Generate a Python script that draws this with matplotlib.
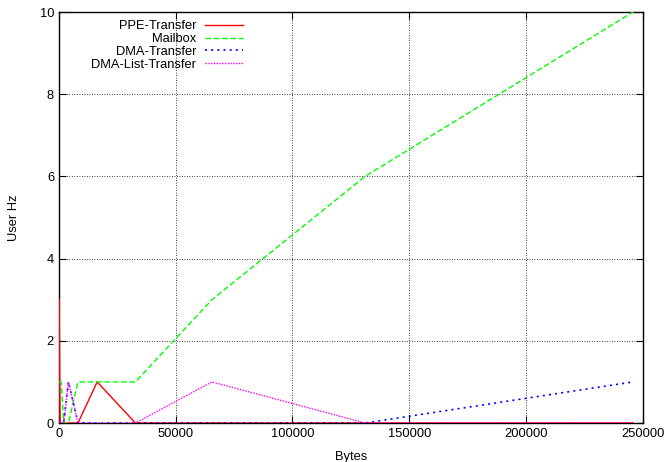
import matplotlib
matplotlib.use("Agg")
import matplotlib.pyplot as plt

plt.rcParams.update({
    "font.family": ["Liberation Sans", "DejaVu Sans"],
    "font.size": 9.3,
    "axes.linewidth": 1.0,
    "xtick.direction": "in",
    "ytick.direction": "in",
    "xtick.top": True,
    "ytick.right": True,
    "xtick.major.size": 5,
    "ytick.major.size": 5,
})

# message sizes (bytes) and measured values
sizes = [128, 512, 1024, 2048, 4096, 8192, 16384, 32768, 65536, 131072, 245760]
ppe_transfer = [3, 0, 0, 0, 0, 0, 1, 0, 0, 0, 0]
mailbox = [1, 1, 1, 0, 0, 1, 1, 1, 3, 6, 10]
dma_transfer = [0, 0, 0, 0, 1, 0, 0, 0, 0, 0, 1]
dma_list_transfer = [0, 0, 0, 0, 1, 0, 0, 0, 1, 0, 0]

xticks = [0, 50000, 100000, 150000, 200000, 250000]
yticks = [0, 2, 4, 6, 8, 10]

fig = plt.figure(figsize=(6.69, 4.62), dpi=100)
ax = fig.add_axes([0.088, 0.0844, 0.873, 0.8896])

ax.plot(sizes, ppe_transfer, color="#ff0000", lw=1.0, ls="-", label="PPE-Transfer", zorder=3)
ax.plot(sizes, mailbox, color="#00ff00", lw=1.0, ls=(0, (4, 2)), label="Mailbox", zorder=3)
ax.plot(sizes, dma_transfer, color="#0000ff", lw=1.2, ls=(0, (1.2, 2.5)), label="DMA-Transfer", zorder=3)
ax.plot(sizes, dma_list_transfer, color="#ff00ff", lw=1.0, ls=(0, (1, 1)), label="DMA-List-Transfer", zorder=3)

ax.set_xlim(0, 250000)
ax.set_ylim(0, 10)
ax.set_xticks(xticks)
ax.set_yticks(yticks)
ax.grid(True, color="black", ls=(0, (1, 2)), lw=0.6)
ax.set_xlabel("Bytes", labelpad=8)
ax.set_ylabel("User Hz", labelpad=14)

ax.legend(loc="upper right", bbox_to_anchor=(0.3295, 1.0), frameon=False,
          markerfirst=False, handlelength=2.9, handletextpad=0.7,
          labelspacing=0.05, borderaxespad=0.0, borderpad=0.65)

fig.savefig("out.png", dpi=100)
